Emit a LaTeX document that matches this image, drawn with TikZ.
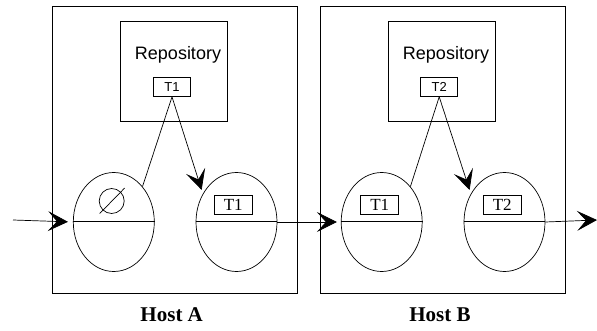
\documentclass[tikz,border=0pt]{standalone}
\usepackage{fontspec}
\setmainfont{Liberation Serif}
\setsansfont{Liberation Sans}
\usetikzlibrary{arrows.meta,shapes.geometric}

\begin{document}
\begin{tikzpicture}[x=1pt,y=-1pt,line width=0.7pt,>/.tip={Stealth[length=20pt,width=20pt,inset=9pt]},
  host/.style={draw,minimum width=245pt,minimum height=287pt},
  repo/.style={draw,minimum width=107pt,minimum height=100pt},
  tag/.style={draw,inner sep=0pt,minimum width=37pt,minimum height=19pt,font=\sffamily\fontsize{13}{14}\selectfont},
  tok/.style={draw,inner sep=0pt,minimum width=38pt,minimum height=19pt,font=\fontsize{17}{18}\selectfont},
  agent/.style={draw,ellipse,inner sep=0pt,minimum width=81pt,minimum height=99pt}]
\useasboundingbox (0,0) rectangle (597,331);

% host A
\draw (174.5,150) node (hostA) [host] {};
\draw (174.2,71.7) node (repoA) [repo] {};
\node (repoA-lbl) at (178,55) {\sffamily\fontsize{18}{20}\selectfont Repository};
\draw (172,87) node (tagA) [tag] {T1};
\draw (113.8,222) node (a1) [agent] {};
\draw (236.5,222) node (a2) [agent] {};
\draw (233.3,204.5) node (a2-t) [tok] {T1};
\node (empty) [draw,circle,inner sep=0pt,minimum size=25pt] at (111.7,201) {};
\draw ([shift={(-12,12.5)}]empty.center) -- ([shift={(13,-13)}]empty.center);
\node (hostA-lbl) at (171.7,315) {\bfseries\fontsize{21}{23}\selectfont Host A};

% host B
\draw (442.5,150) node (hostB) [host] {};
\draw (442,71.7) node (repoB) [repo] {};
\node (repoB-lbl) at (446,55) {\sffamily\fontsize{18}{20}\selectfont Repository};
\draw (439.2,87) node (tagB) [tag] {T2};
\draw (381.7,222) node (b1) [agent] {};
\draw (504.5,222) node (b2) [agent] {};
\draw (379.8,204.5) node (b1-t) [tok] {T1};
\draw (502.2,204.5) node (b2-t) [tok] {T2};
\node (hostB-lbl) at (440,315) {\bfseries\fontsize{21}{23}\selectfont Host B};

% halves
\draw[line width=1pt] (a1.west) -- (a1.east);
\draw[line width=1pt] (a2.west) -- (a2.east);
\draw[line width=1pt] (b1.west) -- (b1.east);
\draw[line width=1pt] (b2.west) -- (b2.east);

% flow
\coordinate (in) at (13,220);
\coordinate (out) at (597,220);
\draw[->,shorten >=5pt] (in) -- (a1.west);
\draw[->,shorten >=4pt] (a2.east) -- (b1.west);
\draw[->] (b2.east) -- (out);
\draw (tagA.south) -- (a1.51);
\draw[->,shorten >=4pt] (tagA.south) -- (a2.140);
\draw (tagB.south) -- (b1.51);
\draw[->,shorten >=4pt] (tagB.south) -- (b2.140);

\end{tikzpicture}
\end{document}
